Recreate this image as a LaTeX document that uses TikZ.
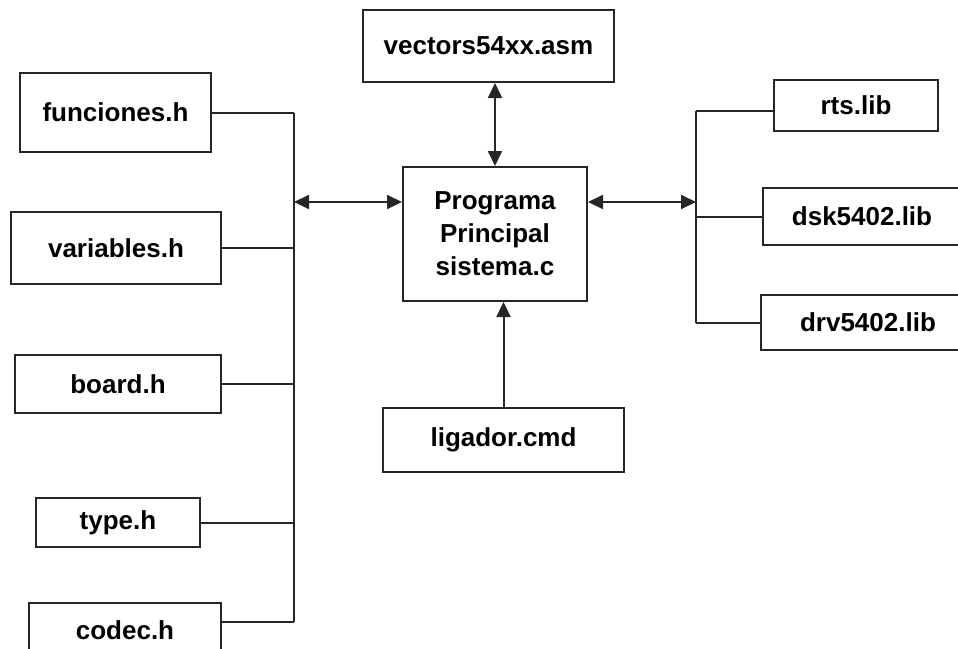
\documentclass[tikz,border=0pt]{standalone}
\usepackage{fontspec}
\setmainfont{Liberation Sans}
\usetikzlibrary{arrows.meta, positioning, calc}
\tikzset{
  filebox/.style={draw=black!85, line width=1pt, fill=white, inner sep=0pt,
                  font=\fontsize{13}{16.5}\selectfont\bfseries, align=center},
  link/.style={draw=black!85, line width=1pt},
  arr/.style={link, -{Triangle[length=7.5pt,width=7pt]}},
  darr/.style={link, {Triangle[length=7.5pt,width=7pt]}-{Triangle[length=7.5pt,width=7pt]}},
}

\begin{document}
\begin{tikzpicture}[x=0.5pt, y=0.5pt]
  \useasboundingbox (0,0) rectangle (958,-648);

  %% ── left: header files ──
  \node[filebox, minimum width=95.5pt, minimum height=39.5pt] (fun) at (115.5,-112.5) {funciones.h};
  \node[filebox, minimum width=105pt, minimum height=36pt] (var) at (116,-248) {variables.h};
  \node[filebox, minimum width=103pt, minimum height=29pt] (board) at (118,-384) {board.h};
  \node[filebox, minimum width=82pt, minimum height=24.5pt] (type) at (118,-522.5) {type.h};
  \node[filebox, minimum width=96pt, minimum height=27pt] (codec) at (125,-630) {codec.h};

  %% ── centre ──
  \node[filebox, minimum width=125.5pt, minimum height=36pt] (vec) at (488.5,-46) {vectors54xx.asm};
  \node[filebox, minimum width=92pt, minimum height=67pt] (prog) at (495,-234) {Programa\\Principal\\sistema.c};
  \node[filebox, minimum width=120.5pt, minimum height=32pt] (lig) at (503.5,-440) {ligador.cmd};

  %% ── right: libraries ──
  \node[filebox, minimum width=82pt, minimum height=25.5pt] (rts) at (856,-105.5) {rts.lib};
  \node[filebox, minimum width=99pt, minimum height=28.5pt] (dsk) at (862,-216.5) {dsk5402.lib};
  \node[filebox, minimum width=107pt, minimum height=27.5pt] (drv) at (868,-322.5) {drv5402.lib};

  %% ── buses ──
  \coordinate (lbus) at (294,-202);
  \coordinate (rbus) at (696,-202);
  \coordinate (codecin) at ($(codec.north east)+(0,-20)$);
  \coordinate (rtsin) at ($(rts.west)+(0,-5.5)$);
  \draw[link] (lbus |- fun.east) -- (lbus |- codecin);
  \foreach \n in {fun,var,board,type}{
    \draw[link] (\n.east) -- (\n.east -| lbus);
  }
  \draw[link] (codecin) -- (codecin -| lbus);
  \draw[link] (rbus |- rtsin) -- (rbus |- drv.west);
  \draw[link] (rtsin) -- (rtsin -| rbus);
  \foreach \n in {dsk,drv}{
    \draw[link] (\n.west) -- (\n.west -| rbus);
  }

  %% ── arrows ──
  \draw[darr] (lbus) -- (lbus -| prog.west);
  \draw[darr] (prog.east |- rbus) -- (rbus);
  \draw[darr] (vec.south -| prog.north) -- (prog.north);
  \draw[arr] (lig.north) -- (lig.north |- prog.south);
\end{tikzpicture}
\end{document}
